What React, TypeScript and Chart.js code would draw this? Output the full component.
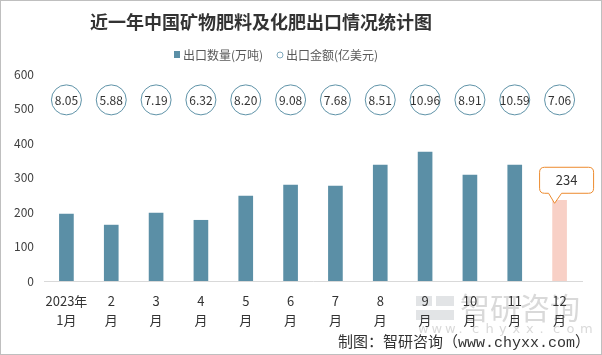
import React, { useEffect, useRef } from "react";
import { Chart, registerables } from "chart.js";

Chart.register(...registerables);

const titleText = "近一年中国矿物肥料及化肥出口情况统计图";
const legendVolume = "出口数量(万吨)";
const legendValue = "出口金额(亿美元)";
const footerText = "制图：智研咨询（www.chyxx.com）";

const monthLabels: string[][] = [
  ["2023年", "1月"], ["2", "月"], ["3", "月"], ["4", "月"], ["5", "月"], ["6", "月"],
  ["7", "月"], ["8", "月"], ["9", "月"], ["10", "月"], ["11", "月"], ["12", "月"],
];
const exportVolume = [194, 162, 197, 176, 246, 278, 275, 336, 374, 307, 336, 234];
const exportValue = [8.05, 5.88, 7.19, 6.32, 8.2, 9.08, 7.68, 8.51, 10.96, 8.91, 10.59, 7.06];
const bubbleLevel = 525;
const yMin = 0;
const yMax = 600;
const yStep = 100;

const BAR = "#5b8fa6";
const LAST_BAR = "#f8d0c6";
const CJK = "'Noto Sans CJK SC', 'Microsoft YaHei', sans-serif";

const decorPlugin = {
  id: "decor",
  beforeDraw(chart: any) {
    const ctx = chart.ctx;
    ctx.save();
    ctx.fillStyle = "#fff";
    ctx.fillRect(0, 0, chart.width, chart.height);
    // watermark
    ctx.fillStyle = "rgba(190,195,200,0.45)";
    ctx.fillRect(416, 296, 16, 10);
    ctx.fillRect(436, 296, 18, 10);
    ctx.fillRect(416, 310, 38, 10);
    ctx.fillStyle = "rgba(170,170,170,0.45)";
    ctx.font = `30px ${CJK}`;
    ctx.textBaseline = "middle";
    ctx.textAlign = "left";
    ctx.fillText("智研咨询", 460, 308);
    ctx.font = `13px 'DejaVu Sans', sans-serif`;
    const w = "www.chyxx.com".split("");
    w.forEach((c, i) => ctx.fillText(c, 418 + i * 13.5, 330));
    ctx.restore();
  },
  afterDraw(chart: any) {
    const ctx = chart.ctx;
    ctx.save();
    // title
    ctx.fillStyle = "#333";
    ctx.font = `bold 18px ${CJK}`;
    ctx.textAlign = "center";
    ctx.textBaseline = "middle";
    ctx.fillText(titleText, 261, 22);
    // legend
    ctx.font = `12px ${CJK}`;
    ctx.textAlign = "left";
    ctx.fillStyle = BAR;
    ctx.fillRect(174, 51, 6, 7);
    ctx.fillStyle = "#595959";
    ctx.fillText(legendVolume, 183, 55);
    ctx.beginPath();
    ctx.arc(280, 55, 3, 0, Math.PI * 2);
    ctx.strokeStyle = "#7fa9bd";
    ctx.lineWidth = 1;
    ctx.stroke();
    ctx.fillText(legendValue, 286, 55);
    // bubble labels
    const meta = chart.getDatasetMeta(1);
    ctx.font = `12px ${CJK}`;
    ctx.textAlign = "center";
    ctx.fillStyle = "#333";
    meta.data.forEach((p: any, i: number) => {
      ctx.fillText(exportValue[i].toFixed(2), p.x, p.y + 1);
    });
    // callout for last bar
    const barMeta = chart.getDatasetMeta(0);
    const last = barMeta.data[barMeta.data.length - 1];
    const bx = last.x, by = last.y;
    const L = bx - 20, R = bx + 34, T = by - 33, B = by - 7, r = 5;
    ctx.beginPath();
    ctx.moveTo(L + r, T);
    ctx.lineTo(R - r, T);
    ctx.quadraticCurveTo(R, T, R, T + r);
    ctx.lineTo(R, B - r);
    ctx.quadraticCurveTo(R, B, R - r, B);
    ctx.lineTo(bx + 2, B);
    ctx.lineTo(bx - 5, by + 3);
    ctx.lineTo(bx - 11, B);
    ctx.lineTo(L + r, B);
    ctx.quadraticCurveTo(L, B, L, B - r);
    ctx.lineTo(L, T + r);
    ctx.quadraticCurveTo(L, T, L + r, T);
    ctx.closePath();
    ctx.fillStyle = "#fff";
    ctx.fill();
    ctx.strokeStyle = "#ed8b2e";
    ctx.lineWidth = 1;
    ctx.stroke();
    ctx.fillStyle = "#333";
    ctx.font = `13px ${CJK}`;
    ctx.fillText(String(exportVolume[exportVolume.length - 1]), (L + R) / 2, (T + B) / 2);
    // footer
    ctx.font = `15px 'Liberation Mono', ${CJK}`;
    ctx.textAlign = "right";
    ctx.fillStyle = "#333";
    ctx.fillText(footerText, 590, 343);
    // frame
    ctx.strokeStyle = "#bfbfbf";
    ctx.strokeRect(0.5, 0.5, chart.width - 1, chart.height - 1);
    ctx.restore();
  },
};

export default function App() {
  const ref = useRef<HTMLCanvasElement>(null);
  useEffect(() => {
    if (!ref.current) return;
    const chart = new Chart(ref.current, {
      data: {
        labels: monthLabels,
        datasets: [
          {
            type: "bar",
            label: legendVolume,
            data: exportVolume,
            backgroundColor: exportVolume.map((_, i) => (i === exportVolume.length - 1 ? LAST_BAR : BAR)),
            barThickness: 14,
            order: 2,
          },
          {
            type: "line",
            label: legendValue,
            data: exportValue.map(() => bubbleLevel),
            showLine: false,
            pointRadius: 15,
            pointHoverRadius: 15,
            pointBackgroundColor: "#fff",
            pointBorderColor: "#5f93a8",
            pointBorderWidth: 1,
            order: 1,
          },
        ],
      } as any,
      options: {
        responsive: false,
        animation: false,
        layout: { padding: { top: 74, right: 20, bottom: 25, left: 0 } },
        plugins: {
          legend: { display: false },
          title: { display: false },
          tooltip: { enabled: false },
        },
        scales: {
          x: {
            grid: { display: false, drawTicks: false },
            border: { display: true, color: "#d9d9d9" },
            ticks: {
              color: "#333",
              font: { size: 13, family: CJK, lineHeight: 1.5 },
              padding: 10,
              maxRotation: 0,
              autoSkip: false,
            },
            afterFit: (s: any) => {
              s.height = 49;
            },
          },
          y: {
            min: yMin,
            max: yMax,
            grid: { display: false, drawTicks: false },
            border: { display: false },
            ticks: {
              stepSize: yStep,
              color: "#404040",
              font: { size: 12, family: CJK },
              padding: 10,
            },
            afterFit: (s: any) => {
              s.width = 44;
            },
          },
        },
      } as any,
      plugins: [decorPlugin],
    });
    return () => chart.destroy();
  }, []);
  return (
    <div style={{ position: "absolute", left: 0, top: 0, width: 602, height: 355 }}>
      <canvas ref={ref} width={602} height={355} style={{ width: 602, height: 355 }} />
    </div>
  );
}
